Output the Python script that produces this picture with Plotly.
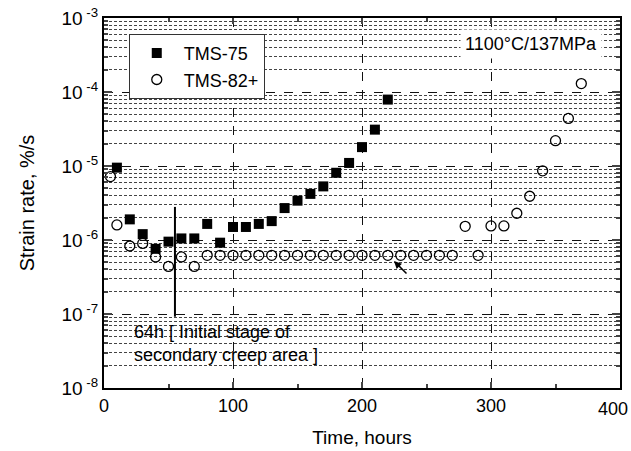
import plotly.graph_objects as go
import numpy as np

# ---- data ----
tms75_hours = [10, 20, 30, 40, 50, 60, 70, 80, 90, 100, 110, 120, 130, 140, 150, 160, 170, 180, 190, 200, 210, 220]
tms75_rate = [9.5e-6, 1.9e-6, 1.2e-6, 7.6e-7, 9.5e-7, 1.05e-6, 1.05e-6, 1.65e-6, 9.2e-7, 1.5e-6, 1.5e-6,
              1.65e-6, 1.8e-6, 2.7e-6, 3.4e-6, 4.2e-6, 5.3e-6, 8.1e-6, 1.1e-5, 1.8e-5, 3.1e-5, 7.9e-5]

tms82_hours = [5, 10, 20, 30, 40, 50, 60, 70, 80, 90, 100, 110, 120, 130, 140, 150, 160, 170, 180, 190,
               200, 210, 220, 230, 240, 250, 260, 270, 280, 290, 300, 310, 320, 330, 340, 350, 360, 370]
tms82_rate = [7.2e-6, 1.6e-6, 8.3e-7, 9.0e-7, 5.9e-7, 4.4e-7, 5.9e-7, 4.4e-7, 6.2e-7, 6.2e-7, 6.2e-7,
              6.2e-7, 6.2e-7, 6.2e-7, 6.2e-7, 6.2e-7, 6.2e-7, 6.2e-7, 6.2e-7, 6.2e-7, 6.2e-7, 6.2e-7,
              6.2e-7, 6.2e-7, 6.2e-7, 6.2e-7, 6.2e-7, 6.2e-7, 1.53e-6, 6.2e-7, 1.55e-6, 1.55e-6,
              2.3e-6, 3.9e-6, 8.6e-6, 2.2e-5, 4.4e-5, 1.3e-4]

marker_line_hours = [55, 55]
marker_line_rate = [2.8e-6, 9.2e-8]

x_ticks = [0, 100, 200, 300, 400]
x_tick_labels = ["0", "100", "200", "300", ""]
x_end_tick = [400]
x_end_label = ["400"]
y_decades = [-8, -7, -6, -5, -4, -3]
y_tick_labels = ["10<sup>\u00a0%d</sup>" % d for d in y_decades]

arrow_hours = 224.8
arrow_rate = 5.2e-7

FONT = "Liberation Sans, Arial, sans-serif"

fig = go.Figure()
fig.add_trace(go.Scatter(x=tms75_hours, y=tms75_rate, mode="markers", name="TMS-75",
                         marker=dict(symbol="square", size=10, color="black")))
fig.add_trace(go.Scatter(x=tms82_hours, y=tms82_rate, mode="markers", name="TMS-82+",
                         marker=dict(symbol="circle-open", size=10, color="black",
                                     line=dict(width=1.3, color="black"))))
fig.add_trace(go.Scatter(x=marker_line_hours, y=marker_line_rate, mode="lines", showlegend=False,
                         line=dict(color="black", width=2)))
fig.add_trace(go.Scatter(x=[], y=[], xaxis="x2", mode="markers", showlegend=False, hoverinfo="skip"))

minor_vals = [k * 10.0 ** d for d in y_decades[:-1] for k in range(2, 10)]

fig.update_layout(
    width=631, height=451,
    margin=dict(l=104, r=11, t=18, b=63),
    paper_bgcolor="white", plot_bgcolor="white",
    font=dict(family=FONT, size=18, color="black"),
    showlegend=True,
    legend=dict(x=0.048, y=0.957, xanchor="left", yanchor="top",
                bordercolor="#333", borderwidth=1, bgcolor="white",
                font=dict(size=18), itemwidth=44),
    xaxis=dict(range=[0, 400], tickvals=x_ticks, ticktext=x_tick_labels,
               ticks="inside", ticklen=6, tickwidth=1.5,
               showline=True, linecolor="black", linewidth=2, mirror="ticks",
               showgrid=True, gridcolor="#111", gridwidth=1, griddash="dash",
               zeroline=False, tickfont=dict(size=18), automargin=False,
               ticklabeloverflow="allow",
               minor=dict(tickvals=[50, 150, 250, 350], ticks="inside", ticklen=4, showgrid=False),
               title=dict(text="Time, hours", font=dict(size=19), standoff=16)),
    xaxis2=dict(range=[0, 400], overlaying="x", side="bottom", tickvals=x_end_tick,
                ticktext=x_end_label, ticks="", showline=False, showgrid=False, zeroline=False,
                tickfont=dict(size=18), automargin=False, ticklabeloverflow="allow",
                ticklabelshift=-7, ticklabelstandoff=8),
    yaxis=dict(type="log", range=[-8, -3], tickvals=[10.0 ** d for d in y_decades],
               ticktext=y_tick_labels, ticks="inside", ticklen=8, tickwidth=1.5,
               showline=True, linecolor="black", linewidth=2, mirror="ticks",
               showgrid=True, gridcolor="#111", gridwidth=1, griddash="dash",
               zeroline=False, tickfont=dict(size=19), automargin=False,
               ticklabeloverflow="allow",
               minor=dict(tickvals=minor_vals, ticks="inside", ticklen=4, showgrid=True,
                          gridcolor="#444", gridwidth=1, griddash="3px,2px"),
               title=dict(text="Strain rate, %/s", font=dict(size=20), standoff=22)),
)

fig.add_annotation(x=0.965, y=0.93, xref="paper", yref="paper", xanchor="right", yanchor="middle",
                   text="1100\u00b0C/137MPa", showarrow=False, bgcolor="white",
                   font=dict(size=18), borderpad=4)
fig.add_annotation(x=22, y=-7.405, xref="x", yref="y", xanchor="left", yanchor="middle",
                   text="64h [ Initial stage of<br>secondary creep area ]", align="left",
                   showarrow=False, font=dict(size=18))
fig.add_annotation(x=arrow_hours, y=np.log10(arrow_rate), xref="x", yref="y", text="",
                   showarrow=True, arrowhead=2, arrowsize=1, arrowwidth=1.5, arrowcolor="black",
                   ax=14, ay=14)

fig.write_html("out.html", config={"displayModeBar": False},
               post_script="document.body.style.margin='0';document.body.style.padding='0';")
